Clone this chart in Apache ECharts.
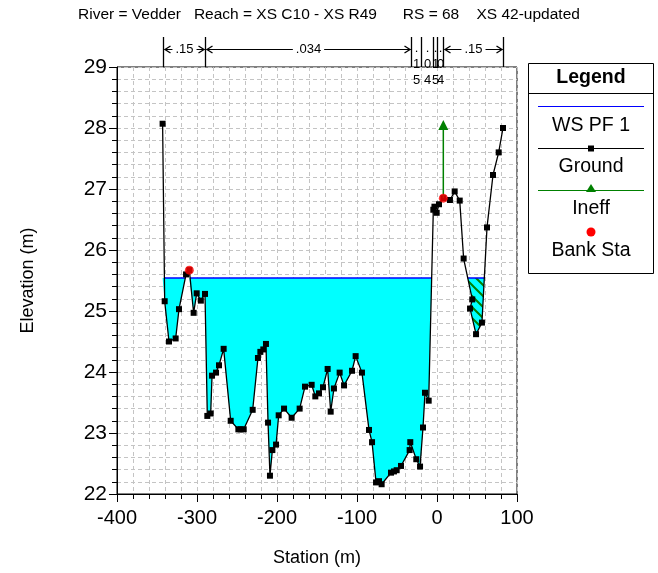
<!DOCTYPE html>
<html><head><meta charset="utf-8">
<script src="https://cdn.jsdelivr.net/npm/echarts@6/dist/echarts.min.js"></script>
<style>html,body{margin:0;padding:0;background:#fff}#c{width:658px;height:573px}</style>
</head><body><div id="c"></div>
<script>
// ---------- data ----------
const titleText = 'River = Vedder   Reach = XS C10 - XS R49      RS = 68    XS 42-updated';
const groundStation = [-343, -340.4, -335, -326.7, -322.5, -313.7, -309.6, -304.2, -300.4, -295.2,
  -290, -287.1, -282.9, -281.2, -276.2, -272.5, -266.7, -257.9, -248.3, -245.4,
  -241.6, -230.4, -223.8, -220.8, -217.1, -213.8, -211.2, -208.8, -205.8, -201.2,
  -197.9, -191.2, -181.7, -171.7, -165, -156.7, -152.1, -147.5, -142.5, -136.7,
  -132.9, -128.8, -121.7, -116.2, -106.2, -101.7, -93.8, -85, -81.2, -76.2,
  -72.5, -69.2, -57.5, -53.8, -50.4, -45, -34.2, -33.4, -25.9, -21.2,
  -17.5, -15, -10.4, -4.6, -3.2, -0.4, 2.5, 7.9, 16.2, 22.1,
  28.4, 33.3, 44.1, 41.3, 48.8, 56.2, 62.5, 70, 77.1, 82.5];
const groundElev = [28.07, 25.16, 24.50, 24.55, 25.03, 25.60, 25.67, 24.97, 25.29, 25.17,
  25.28, 23.28, 23.32, 23.94, 23.99, 24.11, 24.38, 23.20, 23.06, 23.06,
  23.06, 23.38, 24.23, 24.33, 24.37, 24.46, 23.17, 22.30, 22.72, 22.81,
  23.29, 23.40, 23.25, 23.40, 23.76, 23.79, 23.60, 23.65, 23.75, 24.05,
  23.35, 23.73, 23.99, 23.78, 24.02, 24.26, 23.99, 23.05, 22.85, 22.19,
  22.21, 22.16, 22.35, 22.37, 22.39, 22.46, 22.72, 22.85, 22.57, 22.45,
  23.09, 23.66, 23.53, 26.66, 26.71, 26.61, 26.75, 26.85, 26.82, 26.96,
  26.81, 25.86, 25.19, 25.04, 24.62, 24.81, 26.37, 27.23, 27.60, 28.00];
const wsElev = 25.54;
const bankStation = [-309.6, 7.9];
const bankElev = [25.67, 26.85];
const ineffStation = [7.9];
const ineffElev = [28.05];
const nBreaks = [-343, -290, -32.5, -20.4, -4.6, -0.4, 7.9, 82.5];
const nValues = ['.15', '.034', '.15', '.04', '.15', '.04', '.15'];
const legendNames = ['WS PF 1', 'Ground', 'Ineff', 'Bank Sta'];
const xRange = [-400, 100];
const yRange = [22, 29];

// ---------- helpers ----------
const FONT = 'Liberation Sans, Arial, Helvetica, sans-serif';
const ground = groundStation.map((s, i) => [s, groundElev[i]]);

function clipToWS(pts) {
  const out = [];
  for (let i = 0; i < pts.length; i++) {
    const [x, y] = pts[i];
    if (i > 0) {
      const [px, py] = pts[i - 1];
      if ((py - wsElev) * (y - wsElev) < 0) {
        const t = (wsElev - py) / (y - py);
        out.push([px + t * (x - px), wsElev]);
      }
    }
    out.push([x, Math.min(y, wsElev)]);
  }
  return out;
}
function wetRuns(cl) {
  const runs = []; let start = null;
  for (let i = 1; i < cl.length; i++) {
    const below = cl[i][1] < wsElev - 1e-9;
    if (below && start === null) start = cl[i - 1][0];
    if (!below && start !== null) { runs.push([start, cl[i][0]]); start = null; }
  }
  if (start !== null) runs.push([start, cl[cl.length - 1][0]]);
  return runs;
}
function groundAt(s) {
  for (let i = 1; i < ground.length; i++) {
    const [x0, y0] = ground[i - 1], [x1, y1] = ground[i];
    if ((s - x0) * (s - x1) <= 0 && x1 !== x0) return y0 + (s - x0) / (x1 - x0) * (y1 - y0);
  }
  return null;
}

const splitS = ineffStation[0];
const mainGround = ground.filter(p => p[0] <= splitS);
const pocketGround = ground.slice(ground.findIndex(p => p[0] >= splitS));
const mainClip = clipToWS(mainGround);
const pocketClip = clipToWS(pocketGround);
const runs = wetRuns(mainClip).concat(wetRuns(pocketClip));

// hatch pattern
const pc = document.createElement('canvas'); pc.width = 11; pc.height = 11;
(function () {
  const g = pc.getContext('2d');
  g.fillStyle = '#00ffff'; g.fillRect(0, 0, 11, 11);
  g.strokeStyle = '#008000'; g.lineWidth = 2;
  g.beginPath();
  g.moveTo(-2, -2); g.lineTo(13, 13);
  g.moveTo(-2, 9); g.lineTo(2, 13);
  g.moveTo(9, -2); g.lineTo(13, 2);
  g.stroke();
})();

const mctx = document.createElement('canvas').getContext('2d');
mctx.font = '13px ' + FONT;

function nRender(params, api) {
  const i = params.dataIndex;
  const a = api.coord([api.value(0), yRange[1]]);
  const b = api.coord([api.value(1), yRange[1]]);
  const x1 = Math.round(a[0]) + 0.5, x2 = Math.round(b[0]) + 0.5, yT = a[1];
  const lbl = nValues[i];
  const ch = [];
  const top = yT - 30;
  const ls = { stroke: '#000', lineWidth: 1.3 };
  ch.push({ type: 'line', shape: { x1: x1, y1: top, x2: x1, y2: yT }, style: ls });
  if (i === nValues.length - 1) ch.push({ type: 'line', shape: { x1: x2, y1: top, x2: x2, y2: yT }, style: ls });
  const w = x2 - x1, cx = (x1 + x2) / 2;
  const tw = mctx.measureText(lbl).width;
  const ya = yT - 17.5;
  if (w > tw + 16) {
    ch.push({ type: 'text', style: { text: lbl, x: cx, y: ya, align: 'center', verticalAlign: 'middle', fontSize: 13, fontFamily: FONT, fill: '#000' } });
    const al = { stroke: '#000', lineWidth: 1, fill: null };
    ch.push({ type: 'line', shape: { x1: x1 + 1, y1: ya, x2: cx - tw / 2 - 3, y2: ya }, style: al });
    ch.push({ type: 'line', shape: { x1: cx + tw / 2 + 3, y1: ya, x2: x2 - 1, y2: ya }, style: al });
    ch.push({ type: 'polyline', shape: { points: [[x1 + 7, ya - 3.5], [x1 + 1.5, ya], [x1 + 7, ya + 3.5]] }, style: { stroke: '#000', lineWidth: 1.3, fill: null } });
    ch.push({ type: 'polyline', shape: { points: [[x2 - 7, ya - 3.5], [x2 - 1.5, ya], [x2 - 7, ya + 3.5]] }, style: { stroke: '#000', lineWidth: 1.3, fill: null } });
  } else {
    const chars = lbl.split('');
    chars.forEach((c, k) => {
      ch.push({ type: 'text', style: { text: c, x: cx, y: yT - 19 + k * 16, align: 'center', verticalAlign: 'middle', fontSize: 13, fontFamily: FONT, fill: '#000' } });
    });
  }
  return { type: 'group', children: ch };
}

// ---------- legend graphic ----------
const LX = 528.5, LW = 125, LY = 63.5, LH = 210;
const lc = LX + LW / 2;
const sx1 = 538, sx2 = 644;
const LF = 19.5;
const legendGraphic = [
  { type: 'rect', shape: { x: LX, y: LY, width: LW, height: LH }, style: { fill: '#fff', stroke: '#000', lineWidth: 1 }, z: 10 },
  { type: 'text', style: { text: 'Legend', x: lc, y: 77.5, align: 'center', verticalAlign: 'middle', fontSize: LF, fontWeight: 'bold', fontFamily: FONT, fill: '#000' }, z: 11 },
  { type: 'line', shape: { x1: LX, y1: 93.5, x2: LX + LW, y2: 93.5 }, style: { stroke: '#000', lineWidth: 1 }, z: 11 },
  // WS
  { type: 'line', shape: { x1: sx1, y1: 106.5, x2: sx2, y2: 106.5 }, style: { stroke: '#0000ff', lineWidth: 1 }, z: 11 },
  { type: 'text', style: { text: legendNames[0], x: lc, y: 126, align: 'center', verticalAlign: 'middle', fontSize: LF, fontFamily: FONT, fill: '#000' }, z: 11 },
  // Ground
  { type: 'line', shape: { x1: sx1, y1: 148.5, x2: sx2, y2: 148.5 }, style: { stroke: '#000', lineWidth: 1 }, z: 11 },
  { type: 'rect', shape: { x: 588, y: 145.5, width: 6, height: 6 }, style: { fill: '#000' }, z: 11 },
  { type: 'text', style: { text: legendNames[1], x: lc, y: 167, align: 'center', verticalAlign: 'middle', fontSize: LF, fontFamily: FONT, fill: '#000' }, z: 11 },
  // Ineff
  { type: 'line', shape: { x1: sx1, y1: 190.5, x2: sx2, y2: 190.5 }, style: { stroke: '#008000', lineWidth: 1 }, z: 11 },
  { type: 'polygon', shape: { points: [[591, 184], [596, 192], [586, 192]] }, style: { fill: '#008000' }, z: 11 },
  { type: 'text', style: { text: legendNames[2], x: lc, y: 209, align: 'center', verticalAlign: 'middle', fontSize: LF, fontFamily: FONT, fill: '#000' }, z: 11 },
  // Bank
  { type: 'circle', shape: { cx: 591, cy: 232, r: 4.5 }, style: { fill: '#ff0000' }, z: 11 },
  { type: 'text', style: { text: legendNames[3], x: lc, y: 251, align: 'center', verticalAlign: 'middle', fontSize: LF, fontFamily: FONT, fill: '#000' }, z: 11 }
];

// ---------- series ----------
const series = [];
series.push({
  type: 'line', name: 'water', data: mainClip, showSymbol: false, symbol: 'none', silent: true,
  lineStyle: { width: 0, opacity: 0 }, areaStyle: { color: '#00ffff', opacity: 1, origin: wsElev }, z: 1
});
series.push({
  type: 'line', name: 'water-ineff', data: pocketClip, showSymbol: false, symbol: 'none', silent: true,
  lineStyle: { width: 0, opacity: 0 }, areaStyle: { color: { image: pc, repeat: 'repeat' }, opacity: 1, origin: wsElev }, z: 1
});
runs.forEach(r => series.push({
  type: 'line', name: legendNames[0], data: [[r[0], wsElev], [r[1], wsElev]], symbol: 'none', silent: true,
  lineStyle: { color: '#0000ff', width: 1.5 }, z: 2
}));
series.push({
  type: 'line', name: legendNames[1], data: ground, symbol: 'rect', symbolSize: 6, showAllSymbol: true,
  itemStyle: { color: '#000' }, lineStyle: { color: '#000', width: 1.3 }, z: 3, silent: true
});
series.push({
  type: 'line', name: legendNames[2],
  data: [{ value: [ineffStation[0], groundAt(ineffStation[0])], symbol: 'none' }, { value: [ineffStation[0], ineffElev[0]] }],
  symbol: 'triangle', symbolSize: 10, itemStyle: { color: '#008000' }, lineStyle: { color: '#008000', width: 1.5 }, z: 4, silent: true
});
series.push({
  type: 'scatter', name: legendNames[3], data: bankStation.map((s, i) => [s, bankElev[i]]),
  symbol: 'circle', symbolSize: 9, itemStyle: { color: '#ff0000' }, z: 5, silent: true
});
series.push({
  type: 'custom', name: 'n', clip: false, silent: true, z: 6,
  data: nValues.map((v, i) => [nBreaks[i], nBreaks[i + 1]]),
  encode: { x: [0, 1] },
  renderItem: nRender
});

const gridDash = { color: '#c4c4c4', type: [4, 3], width: 1 };
const option = {
  animation: false,
  backgroundColor: '#fff',
  title: { text: titleText, left: 78, top: 7, padding: 0, textStyle: { fontSize: 15.5, fontWeight: 'normal', color: '#000', fontFamily: FONT } },
  grid: { left: 117, right: 141, top: 67, bottom: 79, show: true, borderColor: '#000', borderWidth: 1, backgroundColor: 'transparent', containLabel: false, outerBoundsMode: 'none' },
  xAxis: {
    type: 'value', min: xRange[0], max: xRange[1], interval: 100,
    name: 'Station (m)', nameLocation: 'middle', nameGap: 55,
    nameTextStyle: { fontSize: 18, color: '#000', fontFamily: FONT },
    axisLine: { show: true, onZero: false, lineStyle: { color: '#000', width: 1 } },
    axisTick: { show: true, length: 8, lineStyle: { color: '#000' } },
    minorTick: { show: true, splitNumber: 5, length: 5, lineStyle: { color: '#000' } },
    splitLine: { show: true, lineStyle: gridDash },
    minorSplitLine: { show: true, lineStyle: gridDash },
    axisLabel: { fontSize: 20, color: '#000', margin: 14, fontFamily: FONT }
  },
  yAxis: {
    type: 'value', min: yRange[0], max: yRange[1], interval: 1,
    name: 'Elevation (m)', nameLocation: 'middle', nameGap: 80,
    nameTextStyle: { fontSize: 18, color: '#000', fontFamily: FONT },
    axisLine: { show: true, onZero: false, lineStyle: { color: '#000', width: 1 } },
    axisTick: { show: true, length: 8, lineStyle: { color: '#000' } },
    minorTick: { show: true, splitNumber: 5, length: 5, lineStyle: { color: '#000' } },
    splitLine: { show: true, lineStyle: gridDash },
    minorSplitLine: { show: true, lineStyle: gridDash },
    axisLabel: { fontSize: 21, color: '#000', margin: 10, fontFamily: FONT }
  },
  graphic: legendGraphic,
  series: series
};
const chart = echarts.init(document.getElementById('c'), null, { renderer: 'canvas' });
chart.setOption(option);
</script>
</body></html>
